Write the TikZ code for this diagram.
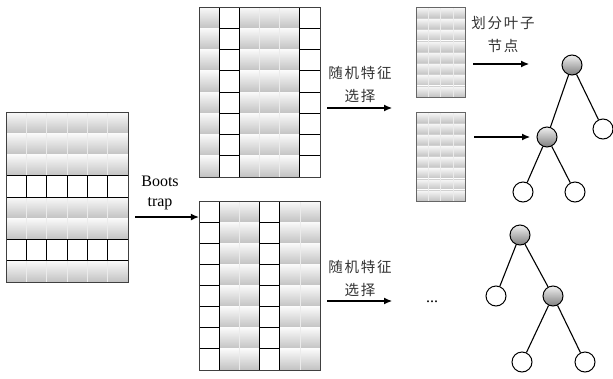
\documentclass[tikz,border=0pt]{standalone}
\usepackage{fontspec}
\setmainfont{Liberation Serif}
\newfontfamily\cjk[LetterSpace=12]{Noto Sans CJK SC}
\usetikzlibrary{arrows.meta}
\begin{document}
\begin{tikzpicture}[x=1pt,y=-1pt,
  graycell/.style={top color=black!2, bottom color=black!24, draw=none},
  faint/.style={draw=black!8, line width=0.5pt},
  wcell/.style={draw=black, fill=white, line width=0.9pt},
  outer/.style={draw=black!75, line width=1pt},
  sborder/.style={draw=black!60, line width=1pt},
  arr/.style={-{Latex[length=8pt,width=7pt]}, line width=1.1pt},
  treeline/.style={line width=1.1pt},
  leafnode/.style={circle, draw=black, fill=white, line width=1pt, minimum size=20pt, inner sep=0pt},
  graynode/.style={circle, draw=black, top color=black!6, bottom color=black!50, line width=1pt, minimum size=20pt, inner sep=0pt},
  cjklabel/.style={font=\cjk\fontsize{14.5}{23}\selectfont, text=black!80, align=center, inner sep=0pt},
  enlabel/.style={font=\fontsize{16}{20}\selectfont, align=center, inner sep=0pt},
  boxarea/.style={draw=none, inner sep=0pt},
]
\useasboundingbox (0,0) rectangle (613,378);

% ---------- left data block ----------
\node[boxarea, minimum width=122pt, minimum height=170pt] (D) at (67,197) {};
\foreach \r in {0,1,2,4,5,7}{
  \shade[graycell] (6,112+\r*21.25) rectangle ++(122,21.25);
}
\foreach \c in {1,...,5}{
  \draw[faint] (6+\c*20.333,112) -- ++(0,170);
}
\foreach \r in {3,6}{
  \foreach \c in {0,...,5}{
    \draw[wcell] (6+\c*20.333,112+\r*21.25) rectangle ++(20.333,21.25);
  }
}
\draw[outer] (6,112) rectangle (128,282);

% ---------- top middle block ----------
\node[boxarea, minimum width=121pt, minimum height=170pt] (T) at (259.5,92) {};
\foreach \r in {0,...,7}{
  \shade[graycell] (199,7+\r*21.25) rectangle ++(20.17,21.25);
  \shade[graycell] (239.33,7+\r*21.25) rectangle ++(60.5,21.25);
}
\draw[faint] (259.5,7) -- ++(0,170);
\draw[faint] (279.67,7) -- ++(0,170);
\foreach \r in {0,...,7}{
  \draw[wcell] (219.17,7+\r*21.25) rectangle ++(20.17,21.25);
  \draw[wcell] (299.83,7+\r*21.25) rectangle ++(20.17,21.25);
}
\draw[outer] (199,7) rectangle (320,177);

% ---------- bottom middle block ----------
\node[boxarea, minimum width=121pt, minimum height=169pt] (B) at (259.5,285.5) {};
\foreach \r in {0,...,7}{
  \shade[graycell] (219.17,201+\r*21.125) rectangle ++(40.33,21.125);
  \shade[graycell] (279.67,201+\r*21.125) rectangle ++(40.33,21.125);
}
\draw[faint] (239.33,201) -- ++(0,169);
\draw[faint] (299.83,201) -- ++(0,169);
\foreach \r in {0,...,7}{
  \draw[wcell] (199,201+\r*21.125) rectangle ++(20.17,21.125);
  \draw[wcell] (259.5,201+\r*21.125) rectangle ++(20.17,21.125);
}
\draw[outer] (199,201) rectangle (320,370);

% ---------- small blocks ----------
\node[boxarea, minimum width=49pt, minimum height=90pt] (S1) at (440.5,52) {};
\node[boxarea, minimum width=49pt, minimum height=89pt] (S2) at (440.5,156.5) {};
\foreach \r in {0,...,7}{
  \shade[graycell] (416,7+\r*11.25) rectangle ++(49,11.25);
  \shade[graycell] (416,112+\r*11.125) rectangle ++(49,11.125);
}
\foreach \r in {1,...,7}{
  \draw[draw=black!18, line width=0.4pt] (416,7+\r*11.25) -- ++(49,0);
  \draw[draw=black!18, line width=0.4pt] (416,112+\r*11.125) -- ++(49,0);
}
\foreach \c in {1,2,3}{
  \draw[faint] (416+\c*12.25,7) -- ++(0,90);
  \draw[faint] (416+\c*12.25,112) -- ++(0,89);
}
\draw[sborder] (416,7) rectangle (465,97);
\draw[sborder] (416,112) rectangle (465,201);

% ---------- bootstrap ----------
\node[enlabel] (bt) at (160,193) {Boots\\trap};
\coordinate (bs) at (135,217);
\draw[arr] (bs) -- (bs -| B.west);

% ---------- random feature selection ----------
\node[cjklabel] (f1) at (360,84) {随机特征\\选择};
\coordinate (f1s) at (327,108);
\coordinate (f1e) at (392,108);
\draw[arr] (f1s) -- (f1e);

\node[cjklabel] (f2) at (360,278) {随机特征\\选择};
\coordinate (f2s) at (327,301);
\coordinate (f2e) at (392,301);
\draw[arr] (f2s) -- (f2e);

\node[enlabel] (dots) at (432,302) {...};

% ---------- split leaf nodes ----------
\node[cjklabel] (sp) at (503,34) {划分叶子\\节点};
\coordinate (t1s) at (473,64);
\coordinate (t1e) at (529,64);
\draw[arr] (t1s) -- (t1e);
\coordinate (t2s) at (474,137);
\coordinate (t2e) at (530,137);
\draw[arr] (t2s) -- (t2e);

% ---------- tree 1 ----------
\node[graynode] (r1) at (572,65) {};
\node[leafnode] (l1) at (603,129) {};
\node[graynode] (m1) at (547,137) {};
\node[leafnode] (l2) at (523,192) {};
\node[leafnode] (l3) at (575,192) {};
\draw[treeline] (r1) -- (l1);
\draw[treeline] (r1) -- (m1);
\draw[treeline] (m1) -- (l2);
\draw[treeline] (m1) -- (l3);

% ---------- tree 2 ----------
\node[graynode] (r2) at (520,235) {};
\node[leafnode] (k1) at (496,296) {};
\node[graynode] (m2) at (553,296) {};
\node[leafnode] (k2) at (522,362) {};
\node[leafnode] (k3) at (585,362) {};
\draw[treeline] (r2) -- (k1);
\draw[treeline] (r2) -- (m2);
\draw[treeline] (m2) -- (k2);
\draw[treeline] (m2) -- (k3);
\end{tikzpicture}
\end{document}
